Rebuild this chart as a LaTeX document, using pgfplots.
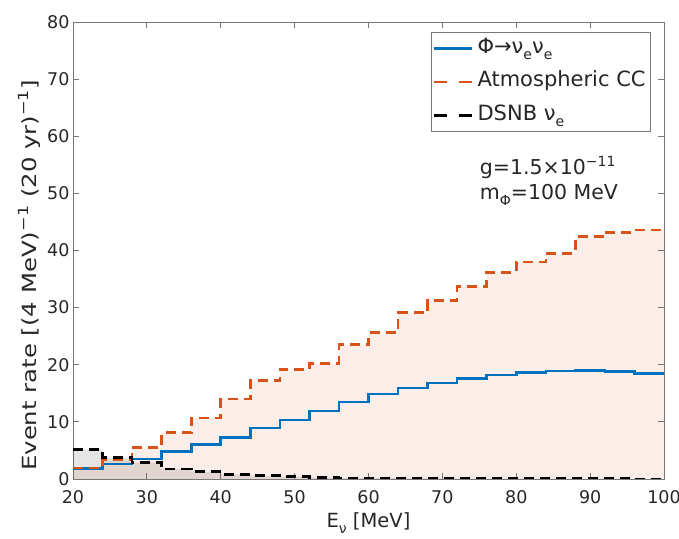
\documentclass[border=0pt]{standalone}
\usepackage{pgfplots}
\pgfplotsset{compat=1.18}
\usepackage{fontspec}
\setmainfont{DejaVu Sans}
\definecolor{mblue}{RGB}{0,114,189}
\definecolor{morange}{RGB}{217,83,25}
\definecolor{axgray}{RGB}{120,120,120}
\definecolor{txt}{RGB}{38,38,38}
\newcommand\sub[1]{\raisebox{-0.55ex}{\fontsize{14}{14}\selectfont #1}}
\newcommand\sups[1]{\raisebox{0.75ex}{\fontsize{14}{14}\selectfont #1}}
\pgfplotsset{dashleg/.style={legend image code/.code={\draw[##1, line width=2.6pt, dash pattern=on 13pt off 12pt] (-9pt,0pt) -- (29pt,0pt);}}}

\pgfplotstableread{
x atm phi dsnb
20 1.9 1.8 5.2
24 3.3 2.6 3.8
28 5.5 3.5 2.9
32 8.1 4.8 1.75
36 10.7 6.0 1.3
40 14.0 7.3 0.8
44 17.2 8.9 0.6
48 19.2 10.3 0.4
52 20.2 11.9 0.3
56 23.5 13.5 0.2
60 25.6 14.9 0.15
64 29.1 15.9 0.12
68 31.2 16.8 0.1
72 33.7 17.6 0.08
76 36.2 18.2 0.07
80 38.0 18.6 0.06
84 39.5 18.9 0.05
88 42.4 19.0 0.04
92 43.2 18.8 0.04
96 43.6 18.5 0.03
100 43.6 18.5 0.03
}\datatable

\begin{document}
\begin{tikzpicture}
\begin{axis}[
  scale only axis, width=591pt, height=457pt,
  xmin=20, xmax=100, ymin=0, ymax=80,
  xtick={20,30,...,100}, ytick={0,10,...,80},
  tick align=inside, major tick length=6pt,
  axis line style={axgray, line width=0.8pt},
  tick style={axgray, line width=0.8pt},
  /pgf/number format/assume math mode=true,
  every tick label/.append style={font=\fontsize{17.5}{17.5}\selectfont, text=txt},
  xticklabel style={yshift=-8pt},
  xlabel={E\sub{ν} [MeV]},
  ylabel={\scalebox{1.25}[1]{Event rate [(4 MeV)\sups{−1} (20 yr)\sups{−1}]}},
  label style={font=\fontsize{19.5}{19.5}\selectfont, text=txt},
  xlabel style={yshift=-2pt},
  ylabel style={at={(ticklabel cs:0.445)}},
  legend style={at={(1,1)}, anchor=north east, xshift=-13pt, yshift=-10pt,
    draw=axgray, line width=0.8pt, font=\fontsize{21}{21}\selectfont, text=txt,
    row sep=7.5pt, inner xsep=2pt, inner ysep=3pt, column sep=1pt,
    nodes={text height=15pt, text depth=5pt, inner ysep=3pt, inner xsep=3pt}},
  legend cell align=left,
  legend image code/.code={\draw[#1, line width=2.6pt] (-9pt,0pt) -- (29pt,0pt);},
]
\addplot[const plot mark left, fill=morange, fill opacity=0.1, draw=none, forget plot]
  table[x=x, y=atm] {\datatable} \closedcycle;
\addplot[const plot mark left, fill=black, fill opacity=0.1, draw=none, forget plot]
  table[x=x, y=dsnb] {\datatable} \closedcycle;
\addplot[const plot mark left, mblue, line width=2.6pt, mark=none]
  table[x=x, y=phi] {\datatable};
\addlegendentry{Φ→ν\sub{e}ν\sub{e}}
\addplot[const plot mark left, morange, line width=2.6pt, mark=none, dash pattern=on 10pt off 6pt, dashleg]
  table[x=x, y=atm] {\datatable};
\addlegendentry{Atmospheric CC}
\addplot[const plot mark left, black, line width=2.6pt, mark=none, dash pattern=on 10pt off 6pt, dashleg]
  table[x=x, y=dsnb] {\datatable};
\addlegendentry{DSNB ν\sub{e}}
\node[anchor=base west, font=\fontsize{20.5}{20.5}\selectfont, text=txt] at (axis cs:74.6,53.3) {g=1.5×10\sups{−11}};
\node[anchor=base west, font=\fontsize{20.5}{20.5}\selectfont, text=txt] at (axis cs:74.6,48.9) {m\sub{Φ}=100 MeV};
\coordinate (sw) at (rel axis cs:0,0);
\coordinate (ne) at (rel axis cs:1,1);
\end{axis}
\pgfresetboundingbox
\path ([shift={(-73pt,-59pt)}]sw) rectangle ([shift={(15pt,22pt)}]ne);
\end{tikzpicture}
\end{document}
